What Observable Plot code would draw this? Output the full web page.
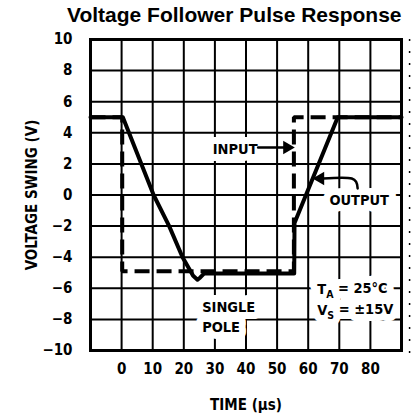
<!DOCTYPE html>
<html><head><meta charset="utf-8">
<script src="https://cdn.jsdelivr.net/npm/d3@7"></script>
<script src="https://cdn.jsdelivr.net/npm/@observablehq/plot@0.6"></script>
<style>
body{margin:0;background:#fff;}
#title{height:30px;font:bold 21px "Liberation Sans",Arial,sans-serif;line-height:30px;padding-left:67px;white-space:nowrap;color:#000}
#chart svg{display:block;}
#chart svg text{font-stretch:condensed;}
</style></head><body>
<div id="title">Voltage Follower Pulse Response</div>
<div id="chart"></div>
<script>
// ---- data ----
const xTicks = [0, 10, 20, 30, 40, 50, 60, 70, 80];
const yTicks = [-10, -8, -6, -4, -2, 0, 2, 4, 6, 8, 10];
const xGrid = [-10, 0, 10, 20, 30, 40, 50, 60, 70, 80, 90];

const inputT = [-10, 0.2, 0.2, 55.4, 55.4, 90];
const inputV = [5, 5, -4.9, -4.9, 5, 5];

const outputT = [-10, 0.4, 10.3, 15.3, 19.6, 23.0, 24.4, 25.3, 26.5, 55.5, 55.6, 69.5, 90];
const outputV = [5, 5, 0, -2, -4, -5.2, -5.45, -5.3, -5.05, -5.05, -1.8, 5, 5];

const labelText = ["INPUT", "OUTPUT", "SINGLE\nPOLE", "T_A = 25°C", "V_S = ±15V"];
const labelT = [36.5, 76.4, 25.9, 62.9, 62.9];
const labelV = [3.05, -0.22, -7.75, -5.95, -7.3];
const labelAnchor = ["middle", "middle", "start", "start", "start"];

const inputArrowT = [43.9, 52.5];
const inputArrowV = [3.05, 3.05];
const outputLeaderT = [64.8, 74.0, 75.4, 75.9];
const outputLeaderV = [1.06, 1.06, 0.85, 0.42];
const arrowHeadT = [53.2, 63.9];
const arrowHeadV = [3.05, 1.06];
const arrowHeadRot = [90, -90];

const artifactT = [92.6];

// ---- tables ----
const input = inputT.map((t, i) => ({t, v: inputV[i]}));
const output = outputT.map((t, i) => ({t, v: outputV[i]}));
const labels = labelText.map((s, i) => ({s, t: labelT[i], v: labelV[i], a: labelAnchor[i]}));
const inArrow = inputArrowT.map((t, i) => ({t, v: inputArrowV[i]}));
const leader = outputLeaderT.map((t, i) => ({t, v: outputLeaderV[i]}));
const heads = arrowHeadT.map((t, i) => ({t, v: arrowHeadV[i], r: arrowHeadRot[i]}));

const FONT = '"DejaVu Sans Condensed","DejaVu Sans","Liberation Sans",sans-serif';
const labStart = labels.filter(d => d.a === "start");
const labMid = labels.filter(d => d.a === "middle");

const textOpts = (extra) => Object.assign({
  x: "t", y: "v", text: "s", fontSize: 14.5, fontWeight: "bold", fontFamily: FONT,
  lineHeight: 1.4, lineAnchor: "middle"
}, extra);

const chart = Plot.plot({
  width: 412,
  height: 387,
  marginTop: 9,
  marginBottom: 67,
  marginLeft: 90,
  marginRight: 11,
  style: {fontFamily: FONT, background: "white", color: "black", overflow: "visible"},
  x: {domain: [-10, 90]},
  y: {domain: [-10, 10]},
  marks: [
    Plot.gridX(xGrid, {stroke: "black", strokeOpacity: 1, strokeWidth: 2}),
    Plot.gridY(yTicks, {stroke: "black", strokeOpacity: 1, strokeWidth: 2}),
    Plot.ruleX(artifactT, {y1: -10.2, y2: 10, stroke: "black", strokeWidth: 1.5, strokeDasharray: "2,10"}),
    // white halos behind annotations
    Plot.text(labMid, textOpts({textAnchor: "middle", fill: "white", stroke: "white", strokeWidth: 14, strokeLinejoin: "round"})),
    Plot.text(labStart, textOpts({textAnchor: "start", fill: "white", stroke: "white", strokeWidth: 14, strokeLinejoin: "round"})),
    Plot.frame({stroke: "black", strokeWidth: 3}),
    Plot.line(input, {x: "t", y: "v", stroke: "black", strokeWidth: 4, strokeDasharray: "15,7", strokeLinecap: "butt", strokeLinejoin: "miter"}),
    Plot.line(output, {x: "t", y: "v", stroke: "black", strokeWidth: 4, strokeLinejoin: "round"}),
    Plot.line(inArrow, {x: "t", y: "v", stroke: "black", strokeWidth: 2.5}),
    Plot.line(leader, {x: "t", y: "v", stroke: "black", strokeWidth: 2.5, curve: "catmull-rom"}),
    Plot.dot(heads, {x: "t", y: "v", rotate: "r", symbol: "triangle", r: 5, fill: "black", stroke: "none"}),
    Plot.text(labMid, textOpts({textAnchor: "middle", fill: "black"})),
    Plot.text(labStart, textOpts({textAnchor: "start", fill: "black"})),
    Plot.axisX(xTicks, {tickSize: 0, tickPadding: 13, fontSize: 15, fontWeight: "bold", tickFormat: d => String(d),
      label: "TIME (µs)", labelAnchor: "center", labelOffset: 59, labelArrow: "none"}),
    Plot.axisY(yTicks, {tickSize: 0, tickPadding: 18, fontSize: 15, fontWeight: "bold",
      label: "VOLTAGE SWING (V)", labelAnchor: "center", labelOffset: 64, labelArrow: "none"})
  ]
});

// subscripts: "X_Y rest" -> X with subscript Y
chart.querySelectorAll("text").forEach(el => {
  if (el.children.length === 0 && el.textContent.includes("_")) {
    const m = el.textContent.match(/^(.)_(.)(.*)$/);
    if (!m) return;
    el.textContent = "";
    const ns = "http://www.w3.org/2000/svg";
    const a = document.createElementNS(ns, "tspan"); a.textContent = m[1];
    const b = document.createElementNS(ns, "tspan"); b.textContent = m[2];
    b.setAttribute("dy", "0.35em"); b.setAttribute("font-size", "10.5");
    const c = document.createElementNS(ns, "tspan"); c.textContent = m[3];
    c.setAttribute("dy", "-0.35em");
    el.append(a, b, c);
  }
});

document.getElementById("chart").appendChild(chart);
</script>
</body></html>
